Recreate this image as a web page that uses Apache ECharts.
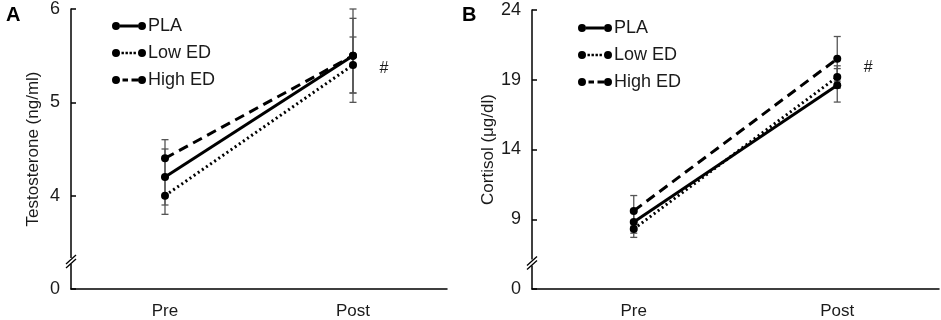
<!DOCTYPE html>
<html>
<head>
<meta charset="utf-8">
<script src="https://cdn.jsdelivr.net/npm/echarts@6/dist/echarts.min.js"></script>
<style>
  html, body { margin: 0; padding: 0; background: #fff; }
  #chart { width: 941px; height: 320px; }
</style>
</head>
<body>
<div id="chart"></div>
<script>
// two panels: testosterone (A) and cortisol (B), Pre vs Post

const categories = ['Pre', 'Post']
const groups = ['PLA', 'Low ED', 'High ED']

// panel A - testosterone (ng/ml)
const testoPLA = [4.2, 5.5]
const testoLow = [4.0, 5.4]
const testoHigh = [4.4, 5.5]
const testoErrPLA = [0.3, 0.5]
const testoErrLow = [0.2, 0.3]
const testoErrHigh = [0.2, 0.4]

// panel B - cortisol (μg/dl)
const cortPLA = [8.8, 18.6]
const cortLow = [8.3, 19.2]
const cortHigh = [9.6, 20.5]
const cortErrPLA = [0.8, 1.2]
const cortErrLow = [0.6, 0.8]
const cortErrHigh = [1.1, 1.6]

// axis ranges, the lowest tick is printed as 0 (broken axis)
const testoTicks = { min: 3, max: 6, interval: 1 }
const cortTicks = { min: 4, max: 24, interval: 5 }

const FONT = "'Liberation Sans', Arial, sans-serif"
const INK = '#000'
const TEXT = '#1a1a1a'

// legend icons: dot - line - dot, drawn in a 34x9 box
const dots = 'M0,4.5a4,4 0 1,0 8,0a4,4 0 1,0 -8,0Z M26,4.5a4,4 0 1,0 8,0a4,4 0 1,0 -8,0Z '
const icons = {
  'PLA': 'path://' + dots + 'M8,3h18v3h-18Z',
  'Low ED': 'path://' + dots + 'M9.5,3.2h2.4v2.6h-2.4Z M13.5,3.2h2.4v2.6h-2.4Z M17.5,3.2h2.4v2.6h-2.4Z M21.5,3.2h2.4v2.6h-2.4Z',
  'High ED': 'path://' + dots + 'M10.5,3h5.5v3h-5.5Z M19.5,3h6.5v3h-6.5Z'
}
const lineTypes = { 'PLA': 'solid', 'Low ED': [2, 3], 'High ED': [10, 6] }

function errorData(means, errs) {
  return means.map((m, i) => [i, m - errs[i], m + errs[i]])
}

function renderErrorBar(params, api) {
  const x = api.value(0)
  const top = api.coord([x, api.value(2)])
  const bot = api.coord([x, api.value(1)])
  const w = 3.5
  const style = { stroke: '#555', lineWidth: 1.3 }
  return {
    type: 'group',
    children: [
      { type: 'line', shape: { x1: top[0], y1: top[1], x2: bot[0], y2: bot[1] }, style },
      { type: 'line', shape: { x1: top[0] - w, y1: top[1], x2: top[0] + w, y2: top[1] }, style },
      { type: 'line', shape: { x1: bot[0] - w, y1: bot[1], x2: bot[0] + w, y2: bot[1] }, style }
    ]
  }
}

function errorSeries(idx, list) {
  return {
    type: 'custom',
    xAxisIndex: idx,
    yAxisIndex: idx,
    renderItem: renderErrorBar,
    encode: { x: 0, y: [1, 2] },
    data: list,
    z: 1,
    silent: true
  }
}

function lineSeries(idx, name, values) {
  return {
    type: 'line',
    name: name,
    xAxisIndex: idx,
    yAxisIndex: idx,
    data: values,
    symbol: 'circle',
    symbolSize: 8,
    itemStyle: { color: INK },
    lineStyle: { color: INK, width: 3, type: lineTypes[name] },
    z: 3,
    animation: false
  }
}

function xAxis(idx) {
  return {
    type: 'category',
    gridIndex: idx,
    data: categories,
    boundaryGap: true,
    axisLine: { lineStyle: { color: INK, width: 1.5 } },
    axisTick: { inside: true, length: 6, lineStyle: { color: INK, width: 1.5 } },
    axisLabel: { color: TEXT, fontSize: 17, fontFamily: FONT, margin: 14 }
  }
}

function yAxis(idx, ticks, name, gap) {
  return {
    type: 'value',
    gridIndex: idx,
    min: ticks.min,
    max: ticks.max,
    interval: ticks.interval,
    name: name,
    nameLocation: 'middle',
    nameGap: gap,
    nameTextStyle: { color: TEXT, fontSize: 17, fontFamily: FONT },
    axisLine: { show: true, lineStyle: { color: INK, width: 1.5 } },
    axisTick: { show: true, inside: true, length: 5, lineStyle: { color: INK, width: 1.5 } },
    splitLine: { show: false },
    axisLabel: {
      color: TEXT, fontSize: 18, fontFamily: FONT, margin: 11,
      formatter: v => (v === ticks.min ? '0' : String(v))
    }
  }
}

function legend(left, top) {
  return {
    orient: 'vertical',
    left: left,
    top: top,
    padding: 0,
    itemWidth: 34,
    itemHeight: 9,
    itemGap: 9,
    selectedMode: false,
    textStyle: { color: TEXT, fontSize: 18, fontFamily: FONT, padding: [0, 0, 0, -3] },
    data: groups.map(g => ({ name: g, icon: icons[g], itemStyle: { color: INK, borderWidth: 0 } }))
  }
}

function hashMark(value) {
  return {
    symbol: 'circle',
    symbolSize: 0,
    label: { show: true, formatter: '#', color: TEXT, fontSize: 16, fontFamily: FONT, offset: [31, 0] },
    data: [{ coord: ['Post', value] }]
  }
}

const chart = echarts.init(document.getElementById('chart'))

const option = {
  animation: false,
  title: [
    { text: 'A', left: 1, top: 0, textStyle: { fontSize: 20, fontWeight: 'bold', fontFamily: FONT, color: INK } },
    { text: 'B', left: 457, top: 0, textStyle: { fontSize: 20, fontWeight: 'bold', fontFamily: FONT, color: INK } }
  ],
  grid: [
    { left: 71, right: 494, top: 8, bottom: 30 },
    { left: 532, right: 2, top: 10, bottom: 30 }
  ],
  legend: [legend(112, 17), legend(578, 19)],
  xAxis: [xAxis(0), xAxis(1)],
  yAxis: [
    yAxis(0, testoTicks, 'Testosterone (ng/ml)', 29),
    yAxis(1, cortTicks, 'Cortisol (μg/dl)', 35)
  ],
  series: [
    errorSeries(0, errorData(testoPLA, testoErrPLA)
      .concat(errorData(testoLow, testoErrLow))
      .concat(errorData(testoHigh, testoErrHigh))),
    Object.assign(lineSeries(0, 'PLA', testoPLA), { markPoint: hashMark(5.36) }),
    lineSeries(0, 'Low ED', testoLow),
    lineSeries(0, 'High ED', testoHigh),
    errorSeries(1, errorData(cortPLA, cortErrPLA)
      .concat(errorData(cortLow, cortErrLow))
      .concat(errorData(cortHigh, cortErrHigh))),
    Object.assign(lineSeries(1, 'PLA', cortPLA), { markPoint: hashMark(19.9) }),
    lineSeries(1, 'Low ED', cortLow),
    lineSeries(1, 'High ED', cortHigh)
  ]
}

chart.setOption(option)

// axis break marks "//" just above the zero label
function breakMark(gridIndex, value) {
  const p = chart.convertToPixel({ gridIndex: gridIndex }, [0, value])
  const axisX = gridIndex === 0 ? 71 : 532
  const y = p[1]
  const st = { stroke: INK, lineWidth: 1.3 }
  return [
    { type: 'rect', shape: { x: axisX - 2, y: y - 3, width: 4, height: 6 }, style: { fill: '#fff' }, z: 100 },
    { type: 'line', shape: { x1: axisX - 5, y1: y + 3, x2: axisX + 5, y2: y - 6 }, style: st, z: 101 },
    { type: 'line', shape: { x1: axisX - 5, y1: y + 7, x2: axisX + 5, y2: y - 2 }, style: st, z: 101 }
  ]
}

chart.setOption({
  graphic: breakMark(0, 3.3).concat(breakMark(1, 5.9))
})
</script>
</body>
</html>
